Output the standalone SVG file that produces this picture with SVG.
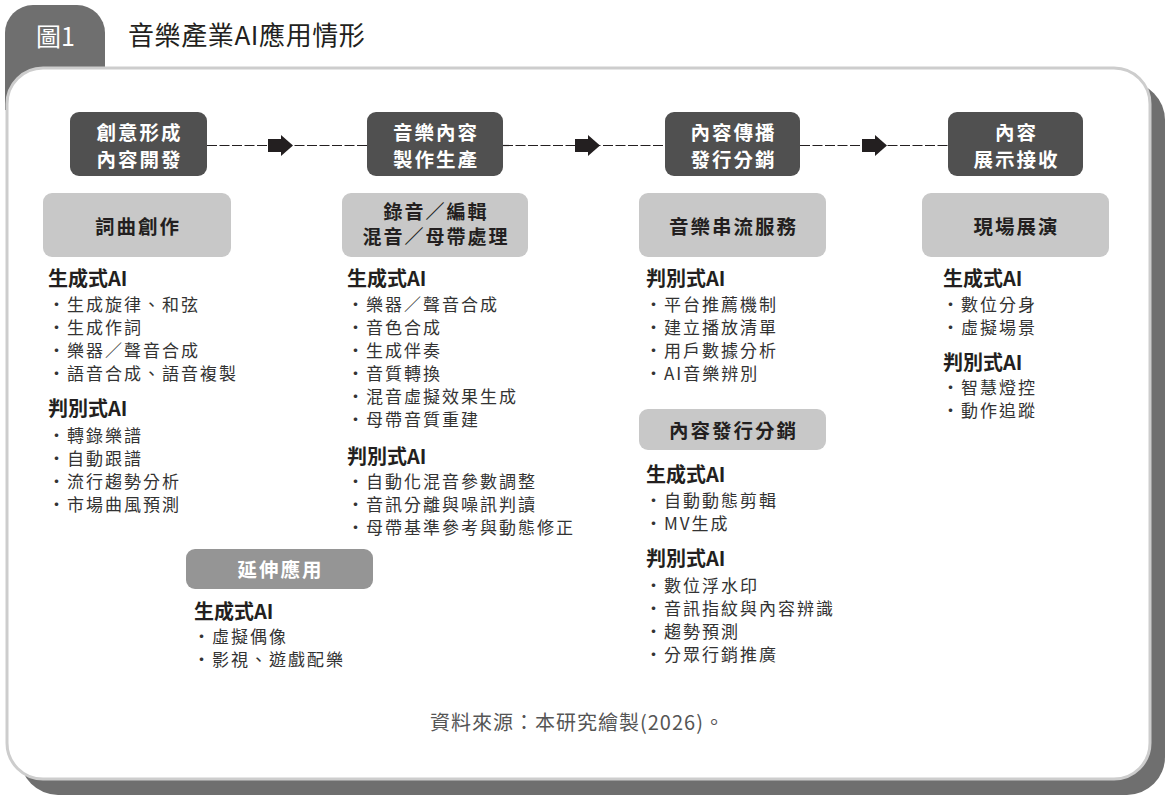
<svg xmlns="http://www.w3.org/2000/svg" width="1169" height="798" viewBox="0 0 1169 798">
<defs>
<style>
text{font-family:"Noto Sans CJK TC","Noto Sans CJK SC","Noto Sans",sans-serif;}
.stage{fill:#505050;}
.stagetxt{fill:#ffffff;font-size:19.5px;font-weight:700;letter-spacing:2px;text-anchor:middle;}
.cat{fill:#c8c8c8;}
.cattxt{fill:#231f20;font-size:19.5px;font-weight:700;letter-spacing:2px;text-anchor:middle;}
.ext{fill:#959595;}
.exttxt{fill:#ffffff;font-size:19.5px;font-weight:700;letter-spacing:2px;text-anchor:middle;}
.hd{fill:#231f20;font-size:20px;font-weight:700;}
.it{fill:#333333;font-size:17px;letter-spacing:2px;}
.conn{stroke:#231f20;stroke-width:1.2;stroke-dasharray:10 2.5;fill:none;}
.arr{fill:#231f20;}
</style>
</defs>

<g id="frame">
<path d="M5,110 V33 A28,28 0 0 1 33,5 H77 A28,28 0 0 1 105,33 V110 Z" fill="#6f6f6f"/>
<rect x="20" y="82" width="1145" height="713" rx="38" ry="38" fill="#6f6f6f"/>
<rect x="7" y="68" width="1143" height="711" rx="36" ry="36" fill="#ffffff" stroke="#cdcdcd" stroke-width="3"/>
<text x="36" y="46" font-size="25" fill="#ffffff">圖1</text>
<text x="128" y="45" font-size="26" letter-spacing="0.6" fill="#231f20">音樂產業AI應用情形</text>
</g>

<g id="connectors">
<line class="conn" x1="207" y1="145.5" x2="367" y2="145.5"/>
<rect class="arr" x="268" y="139" width="14" height="13"/>
<polygon class="arr" points="281,135 293,145.5 281,156"/>
<line class="conn" x1="503" y1="145.5" x2="665" y2="145.5"/>
<rect class="arr" x="575" y="139" width="14" height="13"/>
<polygon class="arr" points="588,135 600,145.5 588,156"/>
<line class="conn" x1="800" y1="145.5" x2="948" y2="145.5"/>
<rect class="arr" x="862" y="139" width="14" height="13"/>
<polygon class="arr" points="875,135 887,145.5 875,156"/>
</g>

<g id="stage1">
<rect class="stage" x="70" y="112" width="137" height="64" rx="9"/>
<text class="stagetxt" x="139.5" y="140">創意形成</text>
<text class="stagetxt" x="139.5" y="167">內容開發</text>
</g>
<g id="stage2">
<rect class="stage" x="367" y="112" width="136" height="64" rx="9"/>
<text class="stagetxt" x="436" y="140">音樂內容</text>
<text class="stagetxt" x="436" y="167">製作生產</text>
</g>
<g id="stage3">
<rect class="stage" x="665" y="112" width="135" height="64" rx="9"/>
<text class="stagetxt" x="733.5" y="140">內容傳播</text>
<text class="stagetxt" x="733.5" y="167">發行分銷</text>
</g>
<g id="stage4">
<rect class="stage" x="948" y="112" width="135" height="64" rx="9"/>
<text class="stagetxt" x="1016.5" y="140">內容</text>
<text class="stagetxt" x="1016.5" y="167">展示接收</text>
</g>

<g id="cat1">
<rect class="cat" x="43" y="193" width="188" height="64" rx="9"/>
<text class="cattxt" x="138" y="234">詞曲創作</text>
</g>
<g id="cat2">
<rect class="cat" x="342" y="193" width="186" height="64" rx="9"/>
<text class="cattxt" x="436" y="219" style="font-size:19px">錄音／編輯</text>
<text class="cattxt" x="436" y="244" style="font-size:19px">混音／母帶處理</text>
</g>
<g id="cat3">
<rect class="cat" x="639" y="193" width="187" height="64" rx="9"/>
<text class="cattxt" x="733.5" y="234">音樂串流服務</text>
</g>
<g id="cat4">
<rect class="cat" x="922" y="193" width="187" height="64" rx="9"/>
<text class="cattxt" x="1016.5" y="234">現場展演</text>
</g>
<g id="cat5">
<rect class="cat" x="639" y="409" width="187" height="41" rx="9"/>
<text class="cattxt" x="733.5" y="438">內容發行分銷</text>
</g>
<g id="cat6">
<rect class="ext" x="186" y="549" width="187" height="40" rx="9"/>
<text class="exttxt" x="280.5" y="577">延伸應用</text>
</g>

<g id="list1">
<text class="hd" x="48" y="286">生成式AI</text>
<text class="it" x="48" y="311">・生成旋律、和弦</text>
<text class="it" x="48" y="334">・生成作詞</text>
<text class="it" x="48" y="357">・樂器／聲音合成</text>
<text class="it" x="48" y="380">・語音合成、語音複製</text>
<text class="hd" x="48" y="416">判別式AI</text>
<text class="it" x="48" y="442">・轉錄樂譜</text>
<text class="it" x="48" y="465">・自動跟譜</text>
<text class="it" x="48" y="488">・流行趨勢分析</text>
<text class="it" x="48" y="511">・市場曲風預測</text>
</g>

<g id="list2">
<text class="hd" x="347" y="286">生成式AI</text>
<text class="it" x="347" y="311">・樂器／聲音合成</text>
<text class="it" x="347" y="334">・音色合成</text>
<text class="it" x="347" y="357">・生成伴奏</text>
<text class="it" x="347" y="380">・音質轉換</text>
<text class="it" x="347" y="403">・混音虛擬效果生成</text>
<text class="it" x="347" y="426">・母帶音質重建</text>
<text class="hd" x="347" y="464">判別式AI</text>
<text class="it" x="347" y="488">・自動化混音參數調整</text>
<text class="it" x="347" y="511">・音訊分離與噪訊判讀</text>
<text class="it" x="347" y="534">・母帶基準參考與動態修正</text>
</g>

<g id="list3">
<text class="hd" x="194" y="619">生成式AI</text>
<text class="it" x="193" y="643">・虛擬偶像</text>
<text class="it" x="193" y="666">・影視、遊戲配樂</text>
</g>

<g id="list4">
<text class="hd" x="646" y="286">判別式AI</text>
<text class="it" x="645" y="311">・平台推薦機制</text>
<text class="it" x="645" y="334">・建立播放清單</text>
<text class="it" x="645" y="357">・用戶數據分析</text>
<text class="it" x="645" y="380">・AI音樂辨別</text>
</g>

<g id="list5">
<text class="hd" x="646" y="482">生成式AI</text>
<text class="it" x="645" y="507">・自動動態剪輯</text>
<text class="it" x="645" y="530">・MV生成</text>
<text class="hd" x="646" y="566">判別式AI</text>
<text class="it" x="645" y="592">・數位浮水印</text>
<text class="it" x="645" y="615">・音訊指紋與內容辨識</text>
<text class="it" x="645" y="638">・趨勢預測</text>
<text class="it" x="645" y="661">・分眾行銷推廣</text>
</g>

<g id="list6">
<text class="hd" x="943" y="286">生成式AI</text>
<text class="it" x="942" y="311">・數位分身</text>
<text class="it" x="942" y="334">・虛擬場景</text>
<text class="hd" x="943" y="370">判別式AI</text>
<text class="it" x="942" y="394">・智慧燈控</text>
<text class="it" x="942" y="417">・動作追蹤</text>
</g>

<g id="source">
<text x="430" y="730" font-size="20" letter-spacing="1" fill="#555555">資料來源：本研究繪製(2026)。</text>
</g>
</svg>
